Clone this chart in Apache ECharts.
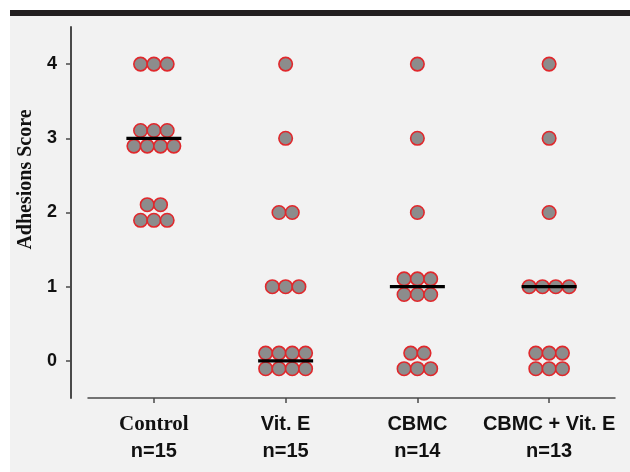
<!DOCTYPE html>
<html><head><meta charset="utf-8">
<script src="https://cdn.jsdelivr.net/npm/echarts@6/dist/echarts.min.js"></script>
<style>html,body{margin:0;padding:0;background:#fff}#c{width:630px;height:472px}</style>
</head><body><div id="c"></div>
<script>
const categories = ['Control', 'Vit. E', 'CBMC', 'CBMC + Vit. E'];
const nLabels = ['n=15', 'n=15', 'n=14', 'n=13'];
const controlScores = [4, 4, 4, 3, 3, 3, 3, 3, 3, 3, 2, 2, 2, 2, 2];
const vitEScores = [4, 3, 2, 2, 1, 1, 1, 0, 0, 0, 0, 0, 0, 0, 0];
const cbmcScores = [4, 3, 2, 1, 1, 1, 1, 1, 1, 0, 0, 0, 0, 0];
const cbmcVitEScores = [4, 3, 2, 1, 1, 1, 1, 0, 0, 0, 0, 0, 0];
const medians = [3, 0, 1, 1];
const yTicks = [0, 1, 2, 3, 4];

const groups = [controlScores, vitEScores, cbmcScores, cbmcVitEScores];
const DOT_GAP = 13.3, ROW_GAP = 7.8;

function swarm(gi, scores) {
  const counts = {};
  scores.forEach(v => { counts[v] = (counts[v] || 0) + 1; });
  const pts = [];
  Object.keys(counts).forEach(k => {
    const v = Number(k), n = counts[k];
    const rows = n <= 4 ? [[n, 0]] : [[Math.ceil(n / 2), ROW_GAP], [Math.floor(n / 2), -ROW_GAP]];
    rows.forEach(([m, dy]) => {
      for (let i = 0; i < m; i++) {
        pts.push({ value: [gi, v], symbolOffset: [(i - (m - 1) / 2) * DOT_GAP, dy] });
      }
    });
  });
  return pts;
}

let dots = [];
groups.forEach((g, i) => { dots = dots.concat(swarm(i, g)); });

const chart = echarts.init(document.getElementById('c'), null, { renderer: 'canvas' });
const axisColor = '#4a4a4a';
chart.setOption({
  backgroundColor: '#f2f2f2',
  animation: false,
  graphic: [
    { type: 'rect', shape: { x: 0, y: 0, width: 630, height: 10 }, style: { fill: '#ffffff' }, silent: true },
    { type: 'rect', shape: { x: 0, y: 0, width: 10, height: 472 }, style: { fill: '#ffffff' }, silent: true },
    { type: 'rect', shape: { x: 10, y: 10, width: 620, height: 6 }, style: { fill: '#231f20' }, silent: true }
  ],
  grid: { left: 88, right: 15, top: 27, bottom: 74, containLabel: false, outerBoundsMode: 'none' },
  xAxis: {
    type: 'category',
    data: categories,
    axisLine: { show: true, onZero: false, lineStyle: { color: axisColor, width: 1.5 } },
    axisTick: { show: true, alignWithLabel: true, length: 5, lineStyle: { color: axisColor, width: 1.5 } },
    splitLine: { show: false },
    axisLabel: {
      interval: 0,
      hideOverlap: false,
      margin: 13,
      formatter: (v, i) => (i === 0 ? '{serif|' + v + '}' : '{sans|' + v + '}') + '\n{n|' + nLabels[i] + '}',
      rich: {
        serif: { fontFamily: 'Liberation Serif', fontWeight: 'bold', fontSize: 21, color: '#111', lineHeight: 27 },
        sans: { fontFamily: 'Liberation Sans', fontWeight: 'bold', fontSize: 20, color: '#111', lineHeight: 27 },
        n: { fontFamily: 'Liberation Sans', fontWeight: 'bold', fontSize: 20, color: '#111', lineHeight: 27 }
      }
    }
  },
  yAxis: {
    type: 'value',
    min: -0.5,
    max: 4.5,
    offset: 17,
    name: 'Adhesions Score',
    nameLocation: 'middle',
    nameGap: 35,
    nameTextStyle: { fontFamily: 'Liberation Serif', fontWeight: 'bold', fontSize: 20, color: '#111', padding: [0, 0, 0, 66] },
    axisLine: { show: true, onZero: false, lineStyle: { color: axisColor, width: 2 } },
    axisTick: { show: true, length: 5, customValues: yTicks, lineStyle: { color: axisColor, width: 1.5 } },
    splitLine: { show: false },
    axisLabel: {
      customValues: yTicks,
      margin: 14,
      fontFamily: 'Liberation Sans', fontWeight: 'bold', fontSize: 18, color: '#111'
    }
  },
  series: [
    {
      type: 'scatter',
      data: dots,
      symbol: 'circle',
      symbolSize: 13.5,
      itemStyle: { color: '#8c8c8c', borderColor: '#e0282c', borderWidth: 1.6, opacity: 1 },
      emphasis: { disabled: true },
      z: 2
    },
    {
      type: 'scatter',
      data: medians.map((m, i) => [i, m]),
      symbol: 'rect',
      symbolSize: [55, 3.3],
      itemStyle: { color: '#000000', opacity: 1 },
      emphasis: { disabled: true },
      z: 5
    }
  ]
});
</script>
</body></html>
